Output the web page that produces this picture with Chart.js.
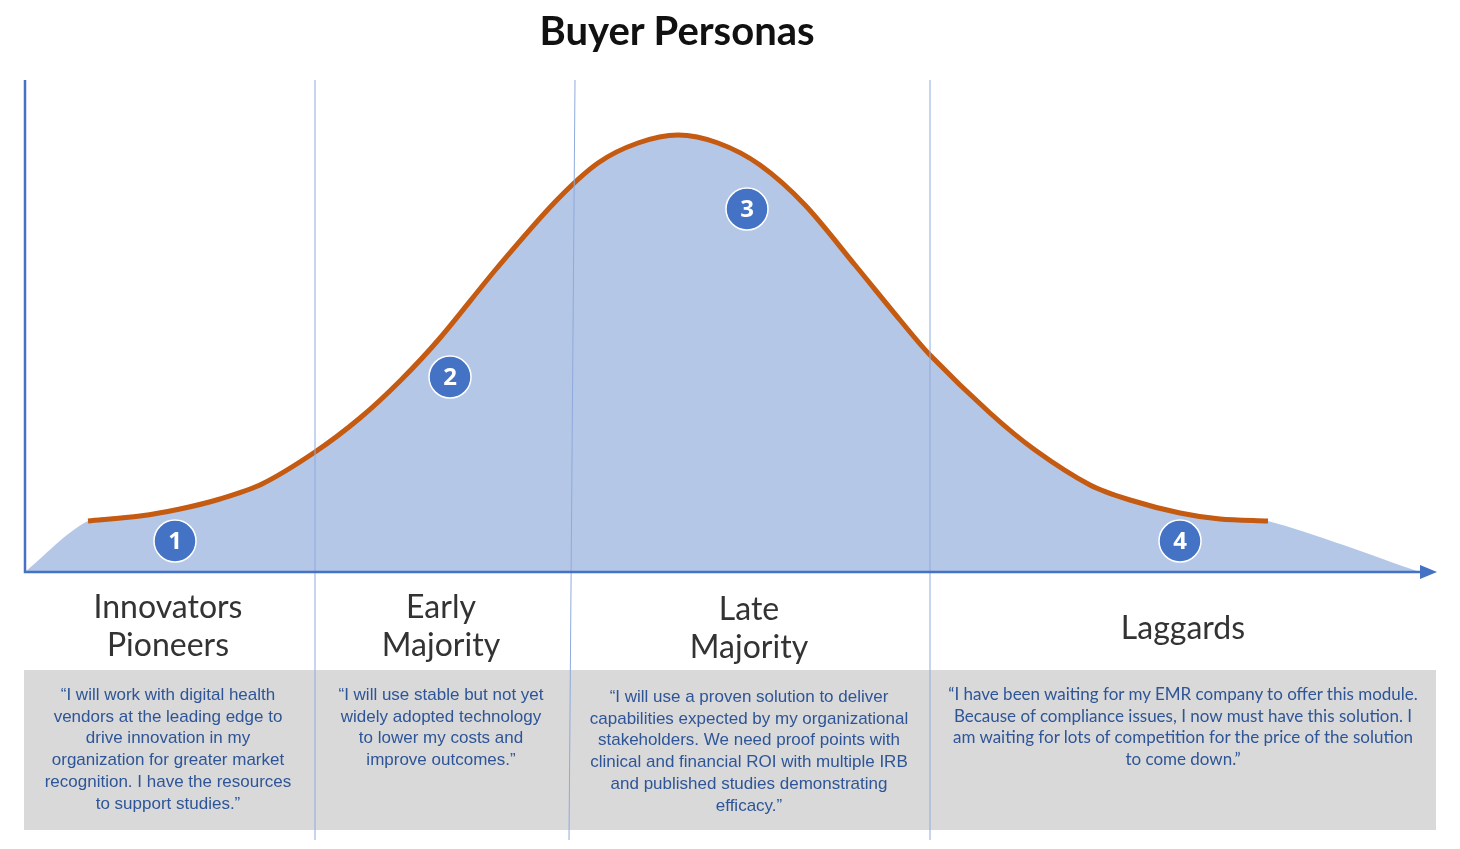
<!DOCTYPE html>
<html><head><meta charset="utf-8">
<script src="https://cdn.jsdelivr.net/npm/chart.js@4"></script>
<style>
body{margin:0;background:#fff;font-family:"Open Sans",Lato,sans-serif}
#wrap{position:relative;width:1460px;height:849px}
.t{position:absolute;text-align:center;transform:translateX(-50%)}
.h{font-family:Lato,"Open Sans",sans-serif;font-size:32px;color:#333;line-height:38px}
.q{font-family:"Liberation Sans",Arial,sans-serif;font-size:17px;color:#2e5597;line-height:21.7px}
</style></head>
<body><div id="wrap">
<canvas id="c" width="1460" height="849"></canvas>
<div class="t" style="left:677px;top:6px;font-family:Lato,sans-serif;font-weight:bold;font-size:40px;color:#111;white-space:nowrap">Buyer Personas</div>
<div class="t h" style="left:168px;top:587px;white-space:nowrap">Innovators<br>Pioneers</div>
<div class="t h" style="left:441px;top:587px">Early<br>Majority</div>
<div class="t h" style="left:749px;top:589px">Late<br>Majority</div>
<div class="t h" style="left:1183px;top:608px">Laggards</div>
<div class="t q" style="left:168px;top:684px;width:260px">“I will work with digital health vendors at the leading edge to drive innovation in my organization for greater market recognition. I have the resources to support studies.”</div>
<div class="t q" style="left:441px;top:684px;width:210px">“I will use stable but not yet widely adopted technology to lower my costs and improve outcomes.”</div>
<div class="t q" style="left:749px;top:686px;width:320px">“I will use a proven solution to deliver capabilities expected by my organizational stakeholders. We need proof points with clinical and financial ROI with multiple IRB and published studies demonstrating efficacy.”</div>
<div class="t q" style="left:1183px;top:683px;width:470px;font-family:Lato,sans-serif">“I have been waiting for my EMR company to offer this module. Because of compliance issues, I now must have this solution. I am waiting for lots of competition for the price of the solution to come down.”</div>
</div>
<script>
// bell curve (x along axis, y height above axis)
let curveX = [63,115,155,195,237,290,335,375,415,472,530,573,613,653,693,735,780,830,875,905,965,1010,1065,1105,1155,1195,1243];
let curveY = [51,56,63,73,88,120,154,191,234,304,370,409,429,437,429,407,367,307,252,217,159,122,87,72,59,53,51];
let markerX = [150,425,722,1155];
let markerY = [31,195,363,31];
let markerLabels = ['1','2','3','4'];
let dividerX = [290,550,905];
let xMax = 1395, yMax = 492;

let curve = curveX.map((x, i) => ({x: x, y: curveY[i]}));
let area = [{x: 0, y: 0}].concat(curve, [{x: xMax, y: 0}]);
let markers = markerX.map((x, i) => ({x: x, y: markerY[i]}));

let decor = {
    id: 'decor',
    beforeDraw(chart) {
        let ctx = chart.ctx, xs = chart.scales.x, ys = chart.scales.y;
        ctx.save();
        ctx.fillStyle = '#d9d9d9';
        ctx.fillRect(24, 670, 1412, 160);
        ctx.restore();
    },
    afterDatasetsDraw(chart) {
        let ctx = chart.ctx, xs = chart.scales.x, ys = chart.scales.y;
        let x0 = xs.getPixelForValue(0), y0 = ys.getPixelForValue(0);
        ctx.save();
        ctx.strokeStyle = '#8faadc';
        ctx.lineWidth = 1;
        dividerX.forEach((d, i) => {
            let px = xs.getPixelForValue(d);
            ctx.beginPath();
            ctx.moveTo(px, ys.getPixelForValue(yMax));
            ctx.lineTo(i == 1 ? px - 6 : px, 840);
            ctx.stroke();
        });
        ctx.strokeStyle = '#4472c4';
        ctx.lineWidth = 2.5;
        ctx.beginPath();
        ctx.moveTo(x0, ys.getPixelForValue(yMax));
        ctx.lineTo(x0, y0);
        ctx.lineTo(1422, y0);
        ctx.stroke();
        ctx.fillStyle = '#4472c4';
        ctx.beginPath();
        ctx.moveTo(1437, y0); ctx.lineTo(1420, y0 - 7); ctx.lineTo(1420, y0 + 7);
        ctx.fill();
        let meta = chart.getDatasetMeta(2);
        ctx.fillStyle = '#fff';
        ctx.font = 'bold 24px "Open Sans", sans-serif';
        ctx.textAlign = 'center';
        ctx.textBaseline = 'middle';
        meta.data.forEach((p, i) => ctx.fillText(markerLabels[i], p.x, p.y + 1));
        ctx.restore();
    }
};

new Chart(document.getElementById('c'), {
    type: 'scatter',
    data: {
        datasets: [
            {data: area, showLine: true, fill: 'origin', backgroundColor: '#b4c7e7', borderWidth: 0, pointRadius: 0, tension: 0.3, order: 3},
            {data: curve, showLine: true, borderColor: '#c55a11', borderWidth: 5, pointRadius: 0, tension: 0.3, order: 2},
            {data: markers, pointRadius: 21, pointBackgroundColor: '#4472c4', pointBorderColor: '#fff', pointBorderWidth: 1.5, order: 1}
        ]
    },
    options: {
        responsive: false,
        animation: false,
        layout: {padding: {left: 25, right: 40, top: 80, bottom: 277}},
        plugins: {legend: {display: false}, tooltip: {enabled: false}},
        scales: {
            x: {type: 'linear', min: 0, max: xMax, display: false},
            y: {min: 0, max: yMax, display: false}
        }
    },
    plugins: [decor]
});
</script>
</body></html>
